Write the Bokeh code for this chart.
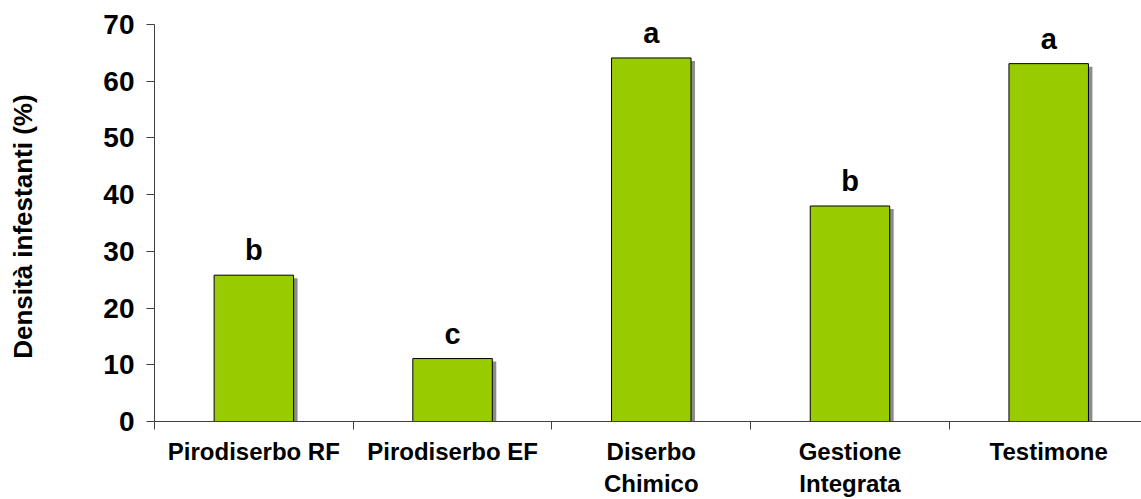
from bokeh.plotting import figure
from bokeh.models import ColumnDataSource, Range1d, FixedTicker, LabelSet
from bokeh.transform import dodge
from bokeh.core.properties import value
from bokeh.embed import file_html
from bokeh.resources import INLINE

categories = ["Pirodiserbo RF", "Pirodiserbo EF", "Diserbo\nChimico", "Gestione\nIntegrata", "Testimone"]
values = [25.8, 11.1, 64.1, 38.0, 63.1]
letters = ["b", "c", "a", "b", "a"]
y_ticks = [0, 10, 20, 30, 40, 50, 60, 70]

FONT = "Liberation Sans"
xs = list(range(len(categories)))
src = ColumnDataSource(dict(x=xs, v=values, lab=letters))

p = figure(width=1141, height=499, output_backend="svg", toolbar_location=None,
           x_range=Range1d(-0.5, 4.467), y_range=Range1d(0, 70),
           min_border_left=154, min_border_right=0, min_border_top=24, min_border_bottom=77)
p.outline_line_color = None
p.xgrid.visible = False
p.ygrid.visible = False
p.background_fill_color = "white"
p.border_fill_color = "white"

# shadows
p.vbar(x=dodge("x", 0.02, range=p.x_range), top=dodge("v", -0.53, range=p.y_range), bottom=0,
       width=0.4, source=src, fill_color="#8c8c8c", line_color=None)
# bars
p.vbar(x="x", top="v", bottom=0, width=0.4, source=src,
       fill_color="#99cc00", line_color="black", line_width=1)
# letters (about 15 px above each bar)
labels = LabelSet(x="x", y="v", text="lab", source=src, x_offset=0, y_offset=15,
                  text_align="center", text_baseline="alphabetic",
                  text_font=value(FONT), text_font_style="bold", text_font_size="29px",
                  text_color="black")
p.add_layout(labels)

xa = p.xaxis[0]
xa.ticker = FixedTicker(ticks=xs, minor_ticks=[-0.5, 0.5, 1.5, 2.5, 3.5])
xa.major_label_overrides = {i: c for i, c in enumerate(categories)}
xa.major_tick_out = 0
xa.major_tick_in = 0
xa.minor_tick_out = 8
xa.minor_tick_in = 0
xa.minor_tick_line_color = "#404040"
xa.axis_line_color = "#404040"
xa.major_label_standoff = 8
xa.major_label_text_font = FONT
xa.major_label_text_font_style = "bold"
xa.major_label_text_font_size = "24px"
xa.major_label_text_color = "black"

ya = p.yaxis[0]
ya.ticker = FixedTicker(ticks=y_ticks, minor_ticks=[])
ya.major_tick_out = 8
ya.major_tick_in = 0
ya.major_tick_line_color = "#404040"
ya.axis_line_color = "#404040"
ya.major_label_standoff = 12
ya.major_label_text_font = FONT
ya.major_label_text_font_style = "bold"
ya.major_label_text_font_size = "28px"
ya.major_label_text_color = "black"
ya.axis_label = "Densità  infestanti (%)"
ya.axis_label_text_font = FONT
ya.axis_label_text_font_style = "bold"
ya.axis_label_text_font_size = "26px"
ya.axis_label_text_color = "black"
ya.axis_label_standoff = 62

open("out.html", "w").write(file_html(p, INLINE))
